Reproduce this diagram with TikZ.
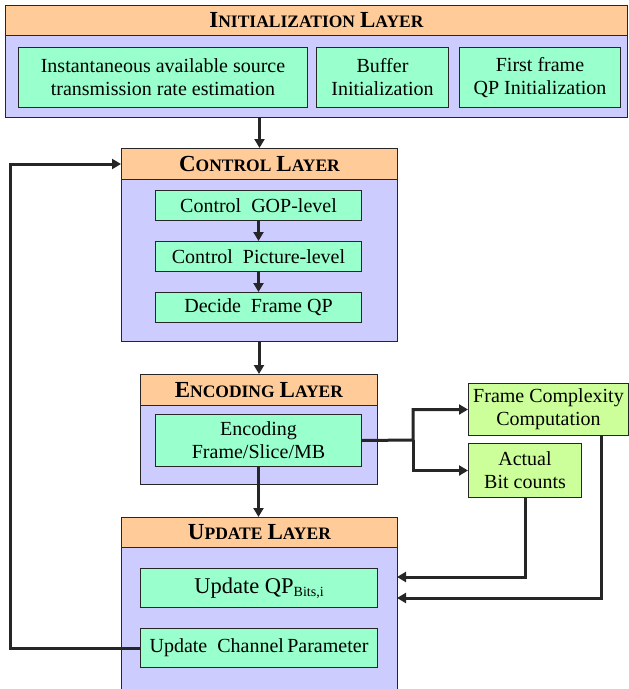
\documentclass[tikz,border=0pt]{standalone}
\usepackage{fontspec}
\setmainfont{Liberation Serif}
\usetikzlibrary{arrows.meta}
\definecolor{hdrfill}{HTML}{FFCC99}
\definecolor{bodyfill}{HTML}{CCCCFF}
\definecolor{mint}{HTML}{99FFCC}
\definecolor{lime}{HTML}{CCFF99}
\definecolor{edge}{HTML}{262626}
% layer title in hand-made small caps
\newcommand{\layertitle}[4]{\textbf{{\fontsize{23}{24}\selectfont #1}{\fontsize{17.5}{19}\selectfont #2}\hspace{0.25em}{\fontsize{23}{24}\selectfont #3}{\fontsize{17.5}{19}\selectfont #4}}}
\tikzset{
  base/.style={draw=edge, line width=1pt, anchor=north west, inner sep=0pt, align=center,
    font=\fontsize{20}{23}\selectfont, text=black},
  layerbody/.style={base, fill=bodyfill},
  layerhead/.style={base, fill=hdrfill},
  task/.style={base, fill=mint},
  side/.style={base, fill=lime},
  arr/.style={draw=edge, line width=3pt, line join=miter, -{Triangle[length=9pt,width=10pt]}},
}
\begin{document}
\begin{tikzpicture}[x=1pt,y=-1pt]
\useasboundingbox (0,0) rectangle (629,689);

% Initialization layer
\node[layerbody, minimum width=622pt, minimum height=112pt] (initb) at (5,5) {};
\node[layerhead, minimum width=622pt, minimum height=30pt] (inith) at (5,5)
  {\layertitle{I}{NITIALIZATION}{L}{AYER}};
\node[task, minimum width=289pt, minimum height=60pt] (rate) at (18,47)
  {Instantaneous available source\\transmission rate estimation};
\node[task, minimum width=132pt, minimum height=60pt] (buf) at (316,47)
  {Buffer\\Initialization};
\node[task, minimum width=161pt, minimum height=60pt] (qp0) at (459,47)
  {First frame\\QP Initialization};

% Control layer
\node[layerbody, minimum width=276pt, minimum height=193pt] (ctl) at (121,148) {};
\node[layerhead, minimum width=276pt, minimum height=31pt] (ctlh) at (121,148)
  {\layertitle{C}{ONTROL}{L}{AYER}};
\node[task, minimum width=206pt, minimum height=30pt] (gop) at (155,190)
  {Control~ GOP-level};
\node[task, minimum width=206pt, minimum height=30pt] (pic) at (155,241)
  {Control~ Picture-level};
\node[task, minimum width=206pt, minimum height=30pt] (fqp) at (155,292)
  {Decide~ Frame QP};

% Encoding layer
\node[layerbody, minimum width=237pt, minimum height=110pt] (enc) at (140,374) {};
\node[layerhead, minimum width=237pt, minimum height=31pt] (ench) at (140,374)
  {\layertitle{E}{NCODING}{L}{AYER}};
\node[task, minimum width=206pt, minimum height=52pt] (encf) at (155,414)
  {Encoding\\Frame/Slice/MB};

% Side computations
\node[side, minimum width=160pt, minimum height=52pt] (fcc) at (468,383)
  {Frame Complexity\\Computation};
\node[side, minimum width=113pt, minimum height=54pt] (abc) at (468,443)
  {Actual\\Bit counts};

% Update layer
\node[layerbody, minimum width=276pt, minimum height=180pt] (upd) at (121,517) {};
\node[layerhead, minimum width=276pt, minimum height=30pt] (updh) at (121,517)
  {\layertitle{U}{PDATE}{L}{AYER}};
\node[task, minimum width=237pt, minimum height=39pt, font=\fontsize{22.5}{24}\selectfont] (uqp) at (140,568)
  {Update QP{\fontsize{14}{15}\selectfont\raisebox{-0.45ex}{Bits,i}}};
\node[task, minimum width=237pt, minimum height=39pt] (uch) at (140,628)
  {Update~ Channel\,Parameter};

% connector points
\coordinate (split) at (413,440);
\coordinate (fcdrop) at (601,435);
\coordinate (inA) at (397,577);
\coordinate (inB) at (397,598);
\coordinate (loopx) at (10,648);

% main flow
\draw[arr] (initb.south -| ctl.north) -- (ctl.north);
\draw[arr] (gop.south) -- (pic.north);
\draw[arr] (pic.south) -- (fqp.north);
\draw[arr] (ctl.south -| enc.north) -- (enc.north);
\draw[arr] (encf.south) -- (encf.south |- upd.north);

% side branches
\draw[arr] (encf.east) -- (split) |- (fcc.west);
\draw[arr] (split) |- (abc.west);
\draw[arr] (abc.south) |- (inA);
\draw[arr] (fcdrop) |- (inB);

% feedback loop
\draw[arr] (uch.west) -- (loopx) |- (ctlh.west);
\end{tikzpicture}
\end{document}
